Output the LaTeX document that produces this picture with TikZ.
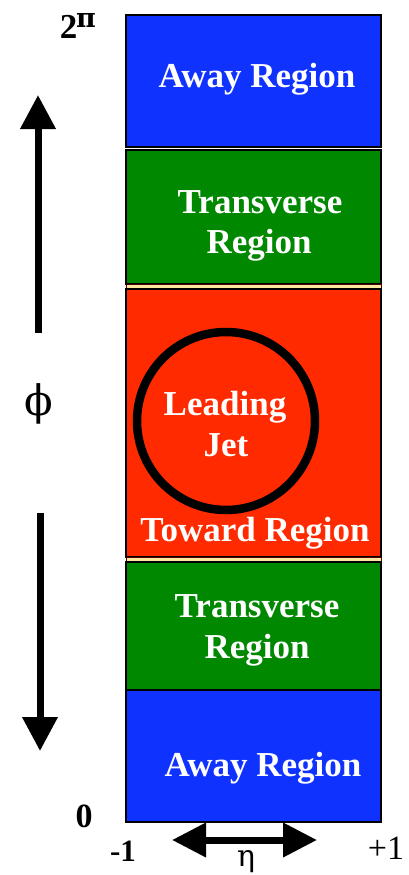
\documentclass[tikz,border=0pt]{standalone}
\usepackage{fontspec}
\setmainfont{Liberation Serif}
\newfontfamily\grk{DejaVu Serif}
\usetikzlibrary{arrows.meta}
\definecolor{blueR}{RGB}{16,50,255}
\definecolor{greenR}{RGB}{0,136,0}
\definecolor{redR}{RGB}{255,42,0}
\definecolor{creamR}{RGB}{255,232,160}
\tikzset{
  region/.style={draw=black, line width=2pt, minimum width=255pt, inner sep=0pt, outer sep=0pt},
  strip/.style={draw=black!70!red, line width=0.8pt, fill=creamR, minimum width=255pt, inner sep=0pt},
  lbl/.style={text=white, font=\fontsize{35}{40}\selectfont\bfseries, anchor=base, inner sep=0pt, align=center},
  axlbl/.style={text=black, font=\bfseries, anchor=base, inner sep=0pt},
  bigarrow/.style={line width=7pt, -{Triangle[width=34pt,length=34pt]}},
}
\begin{document}
\begin{tikzpicture}[x=1pt,y=-1pt]
\useasboundingbox (0,0) rectangle (408,875);
% regions
\node[region, fill=blueR, minimum height=132pt] (away1) at (253.5,81) {};
\node[region, fill=greenR, minimum height=134pt] (trans1) at (253.5,217) {};
\node[strip, minimum height=4pt] (strip1) at (253.5,286.5) {};
\node[region, fill=redR, minimum height=268pt] (toward) at (253.5,423) {};
\node[strip, minimum height=4pt] (strip2) at (253.5,559.5) {};
\node[region, fill=greenR, minimum height=128pt] (trans2) at (253.5,626) {};
\node[region, fill=blueR, minimum height=132pt] (away2) at (253.5,756) {};
% jet circle
\node[draw=black, line width=8.5pt, circle, minimum size=178pt, inner sep=0pt] (jet) at (226,421) {};
% region labels
\node[lbl] (t1) at (257,88) {Away Region};
\node[lbl] (t2) at (260,213) {Transverse};
\node[lbl] (t3) at (259,253) {Region};
\node[lbl] (t4) at (225,415) {Leading};
\node[lbl] (t5) at (226,456) {Jet};
\node[lbl] (t6) at (255,541) {Toward Region};
\node[lbl] (t7) at (257,617) {Transverse};
\node[lbl] (t8) at (257,658) {Region};
\node[lbl] (t9) at (263,776) {Away Region};
% axis arrows
\coordinate (upS) at (38,333);
\coordinate (upE) at (38,95);
\coordinate (dnS) at (40,513);
\coordinate (dnE) at (40,751);
\coordinate (etaL) at (172,840);
\coordinate (etaR) at (317,840);
\draw[bigarrow] (upS) -- (upE);
\draw[bigarrow] (dnS) -- (dnE);
\draw[line width=7pt, {Triangle[width=33pt,length=34pt]}-{Triangle[width=33pt,length=34pt]}] (etaL) -- (etaR);
% axis labels
\node[inner sep=0pt, font=\grk\fontsize{42}{42}\selectfont] (phi) at (39,404) {ϕ};
\node[axlbl, font=\fontsize{35}{35}\selectfont\bfseries] (twopi) at (68.5,38) {2};
\node[anchor=base west, inner sep=0pt, font=\grk\fontsize{27}{27}\selectfont\bfseries] (pi) at (76,28) {π};
\node[axlbl, font=\fontsize{34}{34}\selectfont\bfseries] (zero) at (84,827) {0};
\node[axlbl, font=\fontsize{31}{31}\selectfont\bfseries] (m1) at (123,861) {-1};
\node[axlbl, font=\fontsize{34}{34}\selectfont] (p1) at (386,859) {+1};
\node[anchor=base, inner sep=0pt, font=\grk\fontsize{30}{30}\selectfont] (eta) at (246,866) {η};
\end{tikzpicture}
\end{document}
